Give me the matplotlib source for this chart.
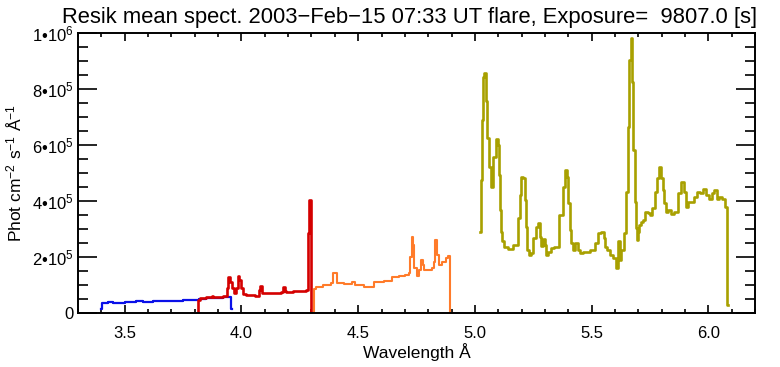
import matplotlib.pyplot as plt
from matplotlib.ticker import MultipleLocator, FixedLocator

plt.rcParams['font.family'] = ['Liberation Sans', 'DejaVu Sans']
plt.rcParams['mathtext.fontset'] = 'custom'
plt.rcParams['mathtext.rm'] = 'Liberation Sans'
plt.rcParams['mathtext.it'] = 'Liberation Sans'

# --- Data (flux in units of 1e3 phot cm-2 s-1 A-1) ---
blue_wl = [3.400, 3.403, 3.43, 3.45, 3.48, 3.50, 3.53, 3.55, 3.58, 3.62, 3.65, 3.68, 3.71,
           3.75, 3.78, 3.82, 3.85, 3.88, 3.92, 3.955, 3.960]
blue_f = [15, 37, 38, 35, 36, 38, 40, 43, 41, 42, 44, 43, 44,
          46, 48, 50, 52, 54, 56, 13, 13]

red_wl = [3.812, 3.813, 3.823, 3.85, 3.873, 3.88, 3.923, 3.937, 3.944, 3.952, 3.960, 3.969,
          3.977, 3.984, 3.991, 3.997, 4.006, 4.02, 4.04, 4.06, 4.076, 4.080, 4.086, 4.09,
          4.12, 4.15, 4.17, 4.178, 4.185, 4.19, 4.22, 4.25, 4.276, 4.285, 4.289, 4.296,
          4.300, 4.304]
red_f = [0, 46, 55, 58, 61, 58, 61, 88, 127, 112, 88, 73,
         88, 133, 118, 88, 67, 63, 64, 62, 82, 98, 76, 70,
         72, 70, 76, 92, 80, 76, 77, 80, 82, 285, 404, 147,
         0, 0]

orange_wl = [4.311, 4.313, 4.32, 4.35, 4.385, 4.394, 4.408, 4.44, 4.473, 4.487, 4.523,
             4.566, 4.609, 4.644, 4.673, 4.70, 4.716, 4.723, 4.730, 4.735, 4.740, 4.751,
             4.762, 4.770, 4.777, 4.783, 4.816, 4.823, 4.830, 4.837, 4.845, 4.859, 4.877,
             4.883, 4.894, 4.896]
orange_f = [0, 86, 94, 100, 108, 142, 106, 104, 112, 100, 94,
            112, 115, 127, 132, 136, 142, 201, 270, 243, 160, 132,
            154, 189, 171, 154, 160, 183, 261, 207, 171, 183, 195,
            205, 0, 0]

olive_wl = [5.023, 5.026, 5.030, 5.034, 5.040, 5.048, 5.054, 5.061, 5.067, 5.076,
            5.090, 5.099, 5.104, 5.108, 5.113, 5.118, 5.126, 5.142, 5.163, 5.184, 5.192,
            5.198, 5.206, 5.213, 5.220, 5.225, 5.232, 5.240, 5.250, 5.262, 5.272, 5.278,
            5.284, 5.292, 5.300, 5.306, 5.312, 5.325, 5.340, 5.360, 5.378, 5.386, 5.393,
            5.400, 5.406, 5.413, 5.421, 5.430, 5.440, 5.450, 5.462, 5.495, 5.515, 5.528,
            5.541, 5.552, 5.559, 5.566, 5.577, 5.591, 5.603, 5.612, 5.620, 5.628, 5.638,
            5.647, 5.655, 5.662, 5.667, 5.671, 5.677, 5.685, 5.690, 5.694, 5.698, 5.702,
            5.710, 5.718, 5.728, 5.740, 5.750, 5.758, 5.770, 5.781, 5.790, 5.797, 5.804,
            5.812, 5.820, 5.827, 5.838, 5.853, 5.868, 5.885, 5.897, 5.904, 5.908, 5.914,
            5.924, 5.937, 5.951, 5.965, 5.979, 5.991, 6.003, 6.016, 6.026, 6.036, 6.047,
            6.059, 6.071, 6.079, 6.084, 6.086]
olive_f = [290, 475, 689, 842, 856, 758, 624, 522, 451, 558,
           620, 600, 493, 368, 290, 258, 237, 229, 243, 338, 421,
           487, 481, 404, 308, 225, 207, 213, 267, 308, 322, 272,
           239, 263, 243, 207, 219, 231, 237, 350, 451, 511, 487,
           392, 296, 249, 225, 249, 225, 215, 219, 225, 249, 285,
           290, 267, 237, 225, 207, 195, 160, 258, 189, 225, 285,
           433, 665, 904, 981, 826, 582, 397, 302, 261, 290, 314,
           326, 332, 362, 358, 350, 374, 433, 481, 522, 481, 439,
           392, 362, 368, 352, 362, 427, 469, 433, 380, 380, 397,
           397, 415, 433, 427, 442, 421, 406, 427, 439, 409, 415,
           409, 380, 29, 29, 29]

title = "Resik mean spect. 2003\u2212Feb\u221215 07:33 UT flare, Exposure=  9807.0 [s]"

# --- Plot ---
fig = plt.figure(figsize=(7.8, 3.67), dpi=100)
ax = fig.add_axes([0.1, 0.147, 0.868, 0.763])

series = [
    (blue_wl, blue_f, "#0a10e8", 1.6),
    (red_wl, red_f, "#d40000", 1.9),
    (orange_wl, orange_f, "#ff7b2a", 1.5),
    (olive_wl, olive_f, "#a8a000", 1.9),
]
for wl, f, col, lw in series:
    ax.plot(wl, [v * 1e3 for v in f], drawstyle='steps-post', color=col, lw=lw)

ax.set_xlim(3.3, 6.2)
ax.set_ylim(0, 1e6)

ax.xaxis.set_major_locator(MultipleLocator(0.5))
ax.xaxis.set_minor_locator(MultipleLocator(0.1))
yt = [0, 2e5, 4e5, 6e5, 8e5, 1e6]
ax.yaxis.set_major_locator(FixedLocator(yt))
ax.yaxis.set_minor_locator(MultipleLocator(5e4))
ax.set_yticklabels(["0", "2\u202210$^{5}$", "4\u202210$^{5}$", "6\u202210$^{5}$",
                    "8\u202210$^{5}$", "1\u202210$^{6}$"])

ax.tick_params(axis='both', which='both', direction='in', top=True, right=True,
               width=1.2, labelsize=12, colors='black')
ax.tick_params(axis='x', which='major', length=6, pad=9)
ax.tick_params(axis='x', which='minor', length=3)
ax.tick_params(axis='y', which='major', length=14, pad=3)
ax.tick_params(axis='y', which='minor', length=7)
for s in ax.spines.values():
    s.set_linewidth(1.4)

ax.set_xlabel("Wavelength \u00c5", fontsize=12.5, labelpad=2)
ax.set_ylabel("Phot cm$^{-2}$ s$^{-1}$ \u00c5$^{-1}$", fontsize=12.5, labelpad=5)
ax.set_title(title, fontsize=15.8, pad=7, x=0.49)

fig.savefig("out.png", dpi=100)
